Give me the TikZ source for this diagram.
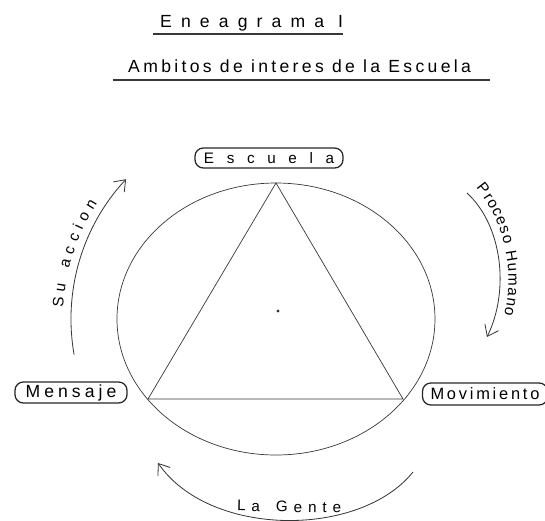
\documentclass[tikz,border=0pt]{standalone}
\usepackage{fontspec}
\newfontfamily\hand{Liberation Sans}
\usetikzlibrary{arrows.meta, decorations.text}
\definecolor{pen}{RGB}{55,55,55}

\begin{document}
\begin{tikzpicture}[scale=0.03,
  line/.style={pen, line width=0.6pt},
  sign/.style={draw=pen!70!black, line width=1.1pt, rounded corners=2.5mm, inner sep=0pt},
  sweep/.style={pen, line width=0.7pt, -{Straight Barb[length=3mm,width=4.5mm]}},
  along/.style={decorate, decoration={text along path, text align=fit to path, text={|\hand\fontsize{13}{15}\selectfont|#1}}}]
  \useasboundingbox (0,0) rectangle (545,521);
  \clip (0,0) rectangle (545,521);
  % titles
  \node[anchor=base west, inner sep=0pt, font=\hand\fontsize{15}{18}\selectfont\addfontfeature{LetterSpace=52}] (title) at (160,493) {Eneagrama I};
  \node[anchor=base west, inner sep=0pt, font=\hand\fontsize{15}{18}\selectfont\addfontfeature{LetterSpace=19}] (subtitle) at (128,448) {Ambitos de interes de la Escuela};
  \coordinate (u1a) at (153,487); \coordinate (u1b) at (343,487);
  \coordinate (u2a) at (113,441); \coordinate (u2b) at (490,441);
  \draw[pen, line width=0.9pt] (u1a) -- (u1b);
  \draw[pen, line width=0.9pt] (u2a) -- (u2b);
  % circle and triangle
  \coordinate (O) at (276,202);
  \coordinate (top) at (276,338);
  \coordinate (left) at (148,122);
  \coordinate (right) at (403,122);
  \draw[line] (O) ellipse[x radius=159, y radius=136];
  \draw[line] (top) -- (right) -- (left) -- cycle;
  \fill[pen] (278,210) circle[radius=1.6];
  % the three corners
  \node[sign, minimum width=4.44cm, minimum height=0.6cm, font=\hand\fontsize{13}{15}\selectfont\addfontfeature{LetterSpace=83}] (escuela) at (269,363) {Escuela};
  \node[sign, minimum width=3.36cm, minimum height=0.63cm, font=\hand\fontsize{15}{18}\selectfont\addfontfeature{LetterSpace=23}] (mensaje) at (71,128.5) {Mensaje};
  \node[sign, minimum width=3.75cm, minimum height=0.66cm, font=\hand\fontsize{14}{17}\selectfont\addfontfeature{LetterSpace=17}] (movimiento) at (485,127) {Movimiento};
  % arrows round the circle
  \coordinate (accion) at (74.1,166.4);
  \draw[sweep] (accion) arc[start angle=190, end angle=137, radius=205];
  \path[along={Su accion}] (63.3,213.1) arc[start angle=177, end angle=147, radius=213];
  \coordinate (humano-a) at (467,328); \coordinate (humano-b) at (487,184);
  \draw[sweep] (humano-a) .. controls (502,296) and (510,231) .. (humano-b);
  \path[along={Proceso Humano}] (476,333) .. controls (506,298) and (515,245) .. (504,206);
  \coordinate (gente-a) at (413,49); \coordinate (gente-b) at (158,58);
  \draw[sweep] (gente-a) .. controls (360,-17) and (210,-17) .. (gente-b);
  \path[along={La Gente}] (237,10) -- (341,8);
\end{tikzpicture}
\end{document}
